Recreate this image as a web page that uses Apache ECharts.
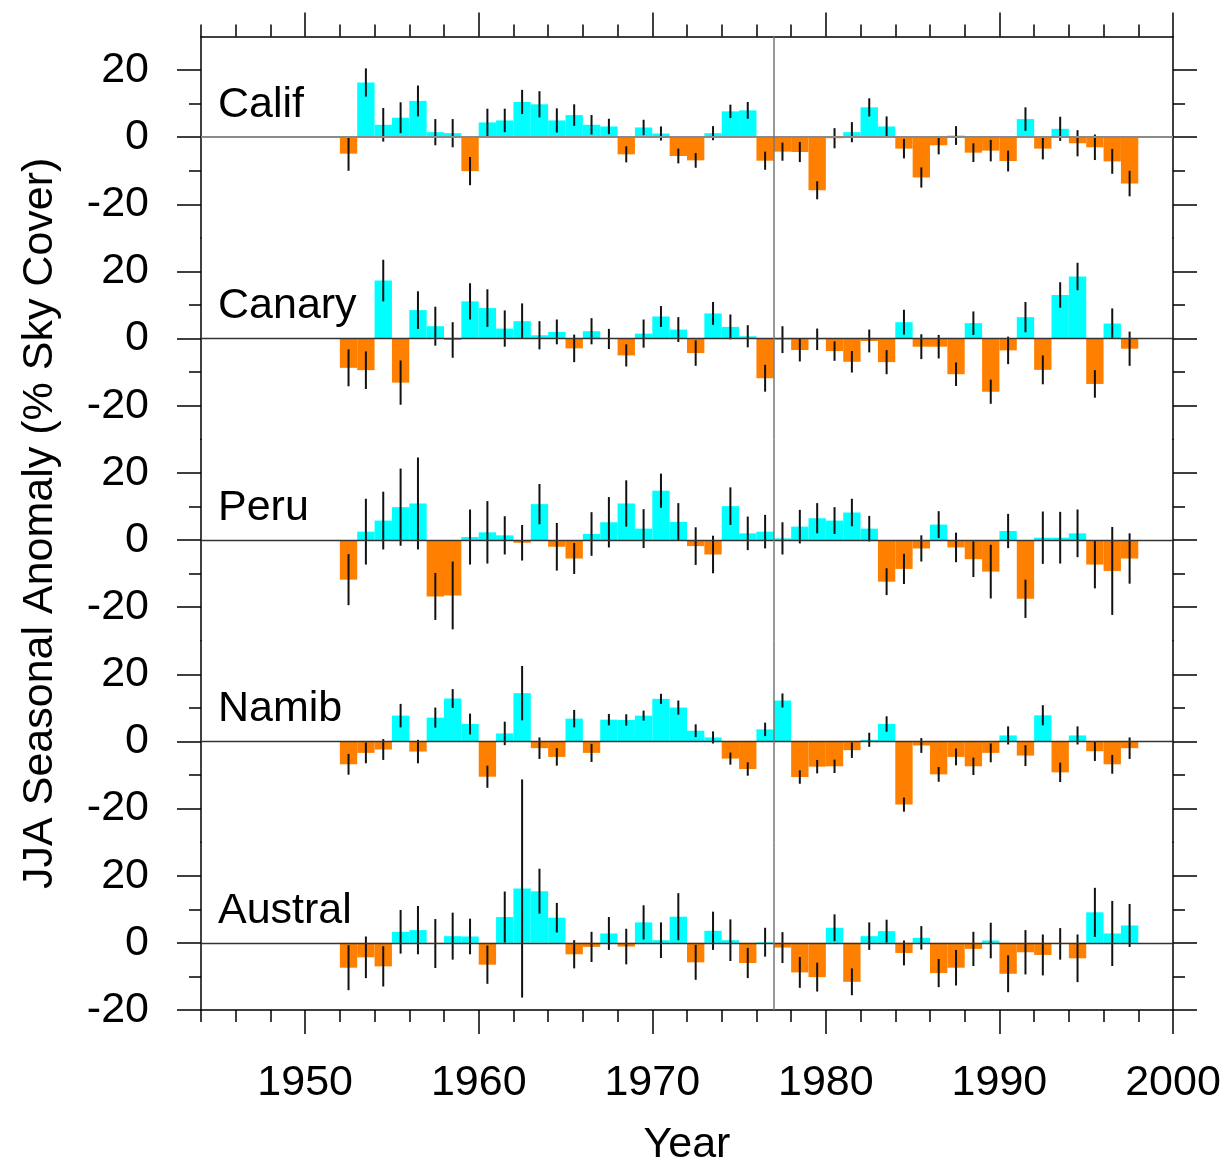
<!DOCTYPE html>
<html lang="en">
<head>
<meta charset="UTF-8">
<title>JJA Seasonal Anomaly</title>
<script src="https://cdn.jsdelivr.net/npm/echarts@6/dist/echarts.min.js"></script>
<style>
  html, body { margin: 0; padding: 0; background: #fff; }
  #main { width: 1228px; height: 1168px; }
</style>
</head>
<body>
<div id="main"></div>
<script type="text/javascript">
// data, one bar per year (bar spans year .. year+1)
var years = [1952, 1953, 1954, 1955, 1956, 1957, 1958, 1959, 1960, 1961, 1962, 1963, 1964, 1965, 1966, 1967,
             1968, 1969, 1970, 1971, 1972, 1973, 1974, 1975, 1976, 1977, 1978, 1979, 1980, 1981, 1982, 1983,
             1984, 1985, 1986, 1987, 1988, 1989, 1990, 1991, 1992, 1993, 1994, 1995, 1996, 1997];

var regions = ['Calif', 'Canary', 'Peru', 'Namib', 'Austral'];

var califVal = [-4.9, 16.3, 3.7, 5.8, 10.8, 1.5, 1.2, -10.1, 4.4, 5.0, 10.5, 9.8, 5.0, 6.6, 3.7, 3.2,
                -5.1, 2.9, 1.1, -5.6, -6.9, 1.2, 7.7, 8.0, -7.0, -4.3, -4.4, -15.8, -0.3, 1.5, 8.9, 3.2,
                -3.4, -12.0, -2.4, 0.5, -4.6, -4.0, -7.1, 5.4, -3.4, 2.5, -1.8, -3.0, -7.2, -13.8];
var califErr = [5.1, 4.2, 5.0, 4.6, 4.6, 3.9, 4.2, 4.2, 4.1, 3.5, 3.6, 3.9, 3.6, 3.2, 2.9, 2.3,
                2.4, 2.3, 2.1, 2.2, 2.2, 2.1, 2.0, 2.5, 2.7, 2.7, 3.0, 2.7, 3.0, 3.0, 2.7, 3.0,
                2.9, 3.0, 2.7, 2.8, 2.8, 3.2, 3.1, 3.5, 3.2, 3.6, 3.9, 3.8, 3.7, 3.8];

var canaryVal = [-8.7, -9.4, 17.3, -13.1, 8.5, 3.7, -0.4, 11.1, 9.1, 3.0, 5.2, 1.0, 2.0, -2.9, 2.2, -0.1,
                 -5.0, 1.5, 6.6, 2.7, -4.3, 7.5, 3.5, 0.7, -11.8, -0.3, -3.4, -0.2, -3.7, -6.9, -0.7, -7.0,
                 4.9, -2.4, -2.4, -10.6, 4.6, -15.8, -3.5, 6.4, -9.3, 13.0, 18.5, -13.5, 4.5, -3.0];
var canaryErr = [5.5, 5.6, 6.2, 6.6, 5.6, 5.8, 5.3, 5.4, 5.6, 5.4, 5.3, 4.2, 3.7, 4.1, 3.9, 3.0,
                 3.3, 4.2, 3.1, 3.7, 3.8, 3.4, 3.7, 3.3, 4.0, 4.0, 3.4, 3.2, 2.9, 3.2, 3.4, 3.6,
                 3.7, 3.7, 3.5, 3.5, 3.5, 3.6, 4.1, 4.5, 4.3, 3.8, 4.1, 4.1, 4.5, 5.1];

var peruVal = [-11.8, 2.5, 5.8, 9.8, 10.9, -16.8, -16.5, 0.9, 2.3, 1.4, -0.8, 10.7, -2.0, -5.5, 1.8, 5.3,
               10.9, 3.4, 14.7, 5.4, -1.8, -4.3, 10.1, 2.0, 2.5, 0.5, 4.0, 6.5, 5.8, 8.2, 3.4, -12.4,
               -8.6, -2.5, 4.6, -2.2, -5.7, -9.4, 2.7, -17.5, 0.7, 0.7, 2.0, -7.3, -9.2, -5.5];
var peruErr = [7.6, 9.8, 8.6, 11.5, 13.7, 7.0, 10.1, 8.2, 9.3, 5.7, 5.3, 6.0, 7.1, 4.6, 6.5, 7.5,
               6.9, 5.8, 5.1, 5.6, 5.6, 5.6, 5.6, 5.0, 5.0, 4.8, 5.0, 4.5, 4.0, 4.1, 3.8, 4.0,
               4.5, 3.9, 4.0, 4.4, 5.3, 8.0, 5.1, 5.7, 7.8, 7.7, 7.1, 7.1, 13.1, 7.5];

var namibVal = [-6.8, -3.4, -2.4, 7.7, -3.0, 7.1, 12.8, 5.2, -10.5, 2.4, 14.4, -2.0, -4.6, 6.8, -3.4, 6.5,
                6.4, 7.7, 12.7, 10.1, 3.2, 1.2, -5.1, -8.2, 3.6, 12.2, -10.6, -7.5, -7.4, -2.6, 0.5, 5.2,
                -18.8, -1.2, -9.8, -4.6, -7.4, -3.4, 1.8, -4.2, 7.8, -9.2, 1.8, -2.9, -6.8, -2.0];
var namibErr = [3.1, 3.1, 3.1, 3.5, 3.5, 3.0, 2.8, 3.1, 3.3, 3.5, 8.1, 3.2, 2.6, 2.6, 2.7, 1.7,
                1.7, 1.5, 1.5, 2.1, 1.9, 1.8, 1.8, 2.0, 2.0, 2.1, 2.0, 2.0, 2.0, 2.3, 2.1, 2.3,
                2.1, 2.2, 2.2, 2.5, 2.6, 2.8, 2.7, 3.1, 3.0, 2.9, 2.7, 2.9, 2.8, 3.2];

var australVal = [-7.4, -4.3, -7.0, 3.3, 3.8, -0.2, 2.0, 1.9, -6.5, 7.7, 16.2, 15.4, 7.5, -3.4, -1.2, 2.8,
                  -1.1, 6.1, 0.8, 7.8, -5.8, 3.6, 0.8, -6.0, 0.2, -1.4, -8.8, -10.2, 4.5, -11.6, 2.0, 3.5,
                  -3.0, 1.5, -9.0, -7.4, -1.8, 0.7, -9.2, -2.8, -3.6, -0.3, -4.6, 9.1, 2.8, 5.2];
var australErr = [6.7, 6.2, 6.0, 6.5, 7.2, 7.3, 7.0, 5.3, 5.7, 7.6, 32.5, 6.7, 4.4, 4.2, 4.5, 4.9,
                  5.3, 5.1, 5.3, 7.0, 5.2, 5.7, 6.2, 4.5, 4.3, 4.6, 4.6, 4.3, 4.0, 4.0, 4.1, 3.4,
                  3.7, 3.5, 4.2, 5.3, 5.1, 5.3, 5.5, 6.6, 6.1, 4.7, 7.1, 7.3, 9.7, 6.4];

var values = [califVal, canaryVal, peruVal, namibVal, australVal];
var errors = [califErr, canaryErr, peruErr, namibErr, australErr];

// axis ticks / labels
var xLabels = [1950, 1960, 1970, 1980, 1990, 2000];
var xMinorTicks = [1944, 1946, 1948, 1952, 1954, 1956, 1958, 1962, 1964, 1966, 1968, 1972, 1974, 1976, 1978,
                   1982, 1984, 1986, 1988, 1992, 1994, 1996, 1998];
var yMajorTicks = [-20, 0, 20];
var yMinorTicks = [-10, 10];
var breakYear = 1977;

var FONT = "'Liberation Sans', Helvetica, Arial, sans-serif";
var POS = '#00ffff', NEG = '#ff8000';
var U = 3.357;            // pixels per % unit
var TOP = 36.5, LEFT = 201, RIGHT = 55;

var chart = echarts.init(document.getElementById('main'));

function renderItem(params, api) {
    var yr = api.value(0), v = api.value(1), e = api.value(2);
    var a = api.coord([yr, 0]);
    var b = api.coord([yr + 1, v]);
    var hi = api.coord([yr + 0.5, v + e]);
    var lo = api.coord([yr + 0.5, v - e]);
    return {
        type: 'group',
        children: [
            { type: 'rect',
              shape: { x: a[0], y: Math.min(a[1], b[1]), width: b[0] - a[0], height: Math.abs(b[1] - a[1]) },
              style: { fill: v >= 0 ? POS : NEG } },
            { type: 'line',
              shape: { x1: hi[0], y1: hi[1], x2: lo[0], y2: lo[1] },
              style: { stroke: '#111', lineWidth: 2 } }
        ]
    };
}

var grids = [], xAxes = [], yAxes = [], series = [], graphics = [];
var tickStyle = { color: '#000', width: 1.5 };
var plainYear = function (v) { return String(v); };

regions.forEach(function (name, p) {
    var last = p === regions.length - 1;
    var top = TOP + p * 60 * U;
    var yMin = last ? -20 : -30;
    grids.push({ left: LEFT, right: RIGHT, top: top, height: (30 - yMin) * U });

    var showX = (p === 0 || last);
    xAxes.push({
        type: 'value', gridIndex: p, min: 1944, max: 2000, show: showX,
        position: p === 0 ? 'top' : 'bottom',
        axisLine: { show: true, onZero: false, lineStyle: tickStyle },
        axisTick: { show: true, customValues: xLabels, length: 24, lineStyle: tickStyle },
        axisLabel: { show: last, customValues: xLabels, formatter: plainYear, fontSize: 43,
                     fontFamily: FONT, color: '#000', margin: 52 },
        splitLine: { show: false },
        name: last ? 'Year' : '', nameLocation: 'middle', nameGap: 114,
        nameTextStyle: { fontSize: 43, fontFamily: FONT, color: '#000' }
    });
    xAxes.push({
        type: 'value', gridIndex: p, min: 1944, max: 2000, show: showX,
        position: p === 0 ? 'top' : 'bottom',
        axisLine: { show: false, onZero: false },
        axisTick: { show: true, customValues: xMinorTicks, length: 12, lineStyle: tickStyle },
        axisLabel: { show: false },
        splitLine: { show: false }
    });

    ['left', 'right'].forEach(function (side) {
        yAxes.push({
            type: 'value', gridIndex: p, min: yMin, max: 30, position: side,
            axisLine: { show: true, onZero: false, lineStyle: tickStyle },
            axisTick: { show: true, customValues: yMajorTicks, length: 24, lineStyle: tickStyle },
            axisLabel: { show: side === 'left', customValues: yMajorTicks, fontSize: 43, fontFamily: FONT,
                         color: '#000', margin: 52 },
            splitLine: { show: false }
        });
        yAxes.push({
            type: 'value', gridIndex: p, min: yMin, max: 30, position: side,
            axisLine: { show: false, onZero: false },
            axisTick: { show: true, customValues: yMinorTicks, length: 12, lineStyle: tickStyle },
            axisLabel: { show: false },
            splitLine: { show: false }
        });
    });

    series.push({
        type: 'custom', name: name,
        xAxisIndex: 2 * p, yAxisIndex: 4 * p,
        clip: false,
        renderItem: renderItem,
        encode: { x: 0, y: 1 },
        data: years.map(function (y, i) { return [y, values[p][i], errors[p][i]]; }),
        markLine: {
            silent: true, symbol: 'none', animation: false,
            label: { show: false },
            data: [
                { yAxis: 0, lineStyle: { color: p === 0 ? '#8a8a8a' : '#333', width: p === 0 ? 2 : 1.3, type: 'solid' } },
                { xAxis: breakYear, lineStyle: { color: '#777', width: 1.5, type: 'solid' } }
            ]
        }
    });

    graphics.push({
        type: 'text', left: 218, top: top + 20 * U - 20,
        style: { text: name, font: '43px ' + FONT, fill: '#000' }
    });
});

graphics.push({
    type: 'text', x: 40, y: TOP + 145 * U, rotation: Math.PI / 2,
    style: { text: 'JJA Seasonal Anomaly (% Sky Cover)', font: '43px ' + FONT, fill: '#000',
             align: 'center', verticalAlign: 'middle' }
});

chart.setOption({
    animation: false,
    backgroundColor: '#fff',
    grid: grids,
    xAxis: xAxes,
    yAxis: yAxes,
    series: series,
    graphic: graphics
});
</script>
</body>
</html>
